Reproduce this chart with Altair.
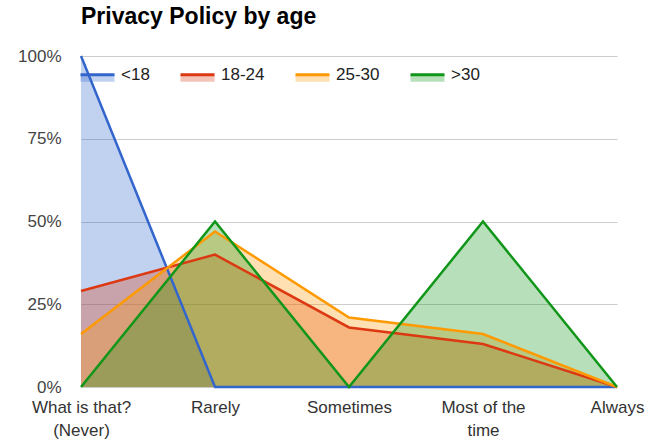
import altair as alt
import pandas as pd

# Answers to "Do you read privacy policies?" split by age group (share of each group)
categories = ["What is that? (Never)", "Rarely", "Sometimes", "Most of the time", "Always"]
series_names = ["<18", "18-24", "25-30", ">30"]
under_18 = [100, 0, 0, 0, 0]
age_18_24 = [29, 40, 18, 13, 0]
age_25_30 = [16, 47, 21, 16, 0]
over_30 = [0, 50, 0, 50, 0]
line_colors = ["#3366cc", "#dc3912", "#ff9900", "#109618"]
area_colors = [
    "rgba(51,102,204,0.3)",
    "rgba(220,57,18,0.3)",
    "rgba(255,153,0,0.3)",
    "rgba(16,150,24,0.3)",
]

rows = []
for name, values in zip(series_names, [under_18, age_18_24, age_25_30, over_30]):
    for cat, v in zip(categories, values):
        rows.append({"age": name, "answer": cat, "share": v / 100})
df = pd.DataFrame(rows)

FONT = "Liberation Sans"

x_enc = alt.X(
    "answer:N",
    sort=categories,
    scale=alt.Scale(padding=0),
    axis=alt.Axis(
        title=None,
        labelAngle=0,
        ticks=False,
        domain=False,
        grid=False,
        labelFontSize=17,
        labelColor="#333333",
        labelPadding=12,
        labelLineHeight=23,
        labelExpr=(
            "datum.label == 'What is that? (Never)' ? ['What is that?', '(Never)'] : "
            "datum.label == 'Most of the time' ? ['Most of the', 'time'] : datum.label"
        ),
    ),
)
y_axis = alt.Axis(
    title=None,
    format=".0%",
    values=[0, 0.25, 0.5, 0.75, 1],
    ticks=False,
    domain=False,
    gridColor="#cccccc",
    labelFontSize=17,
    labelColor="#444444",
    labelPadding=20,
)
y_enc = alt.Y("share:Q", stack=None, scale=alt.Scale(domain=[0, 1]), axis=y_axis)

# One legend shared by the fill (areas) and stroke (lines) channels:
# a pale swatch whose top edge alone is stroked (the dash covers just that edge).
legend = alt.Legend(
    title=None,
    orient="none",
    legendX=-2,
    legendY=0,
    direction="horizontal",
    symbolType="M1,0H-1V0.42H1Z",
    symbolSize=1156,
    symbolStrokeWidth=3,
    symbolDash=[34, 400],
    symbolOpacity=1,
    labelFontSize=17,
    labelColor="#222222",
    labelOffset=5,
    columnPadding=24,
    padding=0,
)

base = alt.Chart(df)

areas = [
    base.transform_filter(alt.datum.age == name)
    .mark_area(opacity=1)
    .encode(
        x=x_enc,
        y=y_enc,
        fill=alt.Fill("age:N", scale=alt.Scale(domain=series_names, range=area_colors), legend=legend),
    )
    for name in series_names
]
lines = [
    base.transform_filter(alt.datum.age == name)
    .mark_line(strokeWidth=2.5)
    .encode(
        x=x_enc,
        y=y_enc,
        stroke=alt.Stroke("age:N", scale=alt.Scale(domain=series_names, range=line_colors), legend=legend),
    )
    for name in series_names
]

chart = (
    alt.layer(*areas, *lines)
    .properties(
        width=536,
        height=331,
        title=alt.Title(
            "Privacy Policy by age",
            anchor="start",
            frame="group",
            fontSize=23,
            fontWeight="bold",
            font=FONT,
            color="#000000",
            baseline="alphabetic",
            offset=0,
        ),
        autosize=alt.AutoSizeParams(type="none"),
        padding={"left": 81, "top": 56, "right": 41, "bottom": 56},
    )
    .configure(font=FONT)
    .configure_view(stroke=None)
    .configure_axis(labelFont=FONT)
    .configure_legend(labelFont=FONT)
)

chart.save("out.html", embed_options={"renderer": "svg", "actions": False})
